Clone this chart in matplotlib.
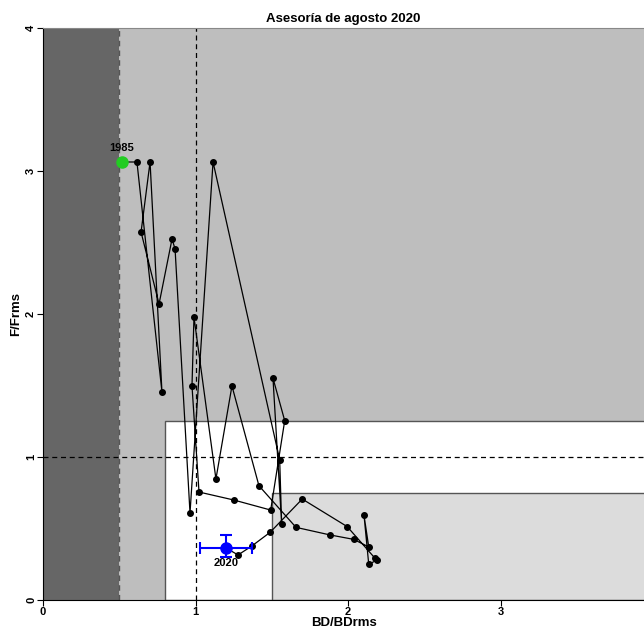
import matplotlib
matplotlib.use('Agg')
from matplotlib import pyplot as plt
from matplotlib.patches import Rectangle

# trajectory, 1985 -> 2020
years = list(range(1985, 2021))
bd = [0.518, 0.616, 0.780, 0.702, 0.643, 0.761, 0.846, 0.866, 0.964, 1.115,
      1.552, 1.565, 1.508, 1.585, 1.493, 1.252, 1.023, 0.977, 0.990, 1.134,
      1.239, 1.416, 1.659, 1.882, 2.037, 2.136, 2.105, 2.136, 2.192, 2.177,
      1.995, 1.700, 1.489, 1.370, 1.279, 1.200]
f = [3.063, 3.063, 1.455, 3.063, 2.573, 2.070, 2.524, 2.455, 0.608, 3.063,
     0.981, 0.529, 1.552, 1.254, 0.629, 0.699, 0.755, 1.497, 1.979, 0.846,
     1.497, 0.799, 0.508, 0.455, 0.424, 0.371, 0.592, 0.250, 0.280, 0.292,
     0.513, 0.706, 0.473, 0.378, 0.315, 0.364]

# last year uncertainty
bd_err = [0.17, 0.17]
f_err = [0.06, 0.09]

font_title = {'family': 'Liberation Sans', 'weight': 'bold', 'size': 9.5}
font1 = {'family': 'Liberation Sans', 'weight': 'bold', 'size': 9.5}
font_lab = {'family': 'Liberation Sans', 'weight': 'bold', 'size': 8}

fig = plt.figure(figsize=(6.44, 6.31), dpi=100)
ax = fig.add_axes([43/644, 31/631, 1 - 43/644, 572/631])
xmax = (644 - 43) / 152.5
ax.set_xlim(0, xmax)
ax.set_ylim(0, 4)

# background zones
ax.add_patch(Rectangle((0, 0), 0.5, 4, facecolor='#666666', edgecolor='none', zorder=0))
ax.add_patch(Rectangle((0.5, 0), xmax, 4, facecolor='#bebebe', edgecolor='none', zorder=0))
ax.add_patch(Rectangle((0.8, 0), xmax, 1.25, facecolor='white', edgecolor='#555555', lw=1, zorder=1))
ax.add_patch(Rectangle((1.5, 0), xmax, 0.75, facecolor='#dcdcdc', edgecolor='#555555', lw=1, zorder=1))
ax.axvline(0.5, color='#555555', ls=(0, (4, 3)), lw=1, zorder=2)
ax.axvline(1, color='black', ls=(0, (4, 3)), lw=0.9, zorder=2)
ax.axhline(1, color='black', ls=(0, (4, 3)), lw=0.9, zorder=2)

ax.plot(bd, f, color='black', lw=0.9, marker='o', markersize=4, zorder=3)
ax.plot(bd[0], f[0], 'o', color='#22cc22', markersize=8, zorder=4)
ax.errorbar(bd[-1], f[-1], xerr=[[bd_err[0]], [bd_err[1]]], yerr=[[f_err[0]], [f_err[1]]],
            fmt='o', color='blue', markersize=8, lw=1.5, capsize=4, capthick=1.5, zorder=5)
ax.text(bd[0], f[0] + 0.06, str(years[0]), ha='center', va='bottom', fontdict=font_lab)
ax.text(bd[-1], f[-1] - 0.07, str(years[-1]), ha='center', va='top', fontdict=font_lab)

ax.set_title('Asesoría de agosto 2020', fontdict=font_title, pad=4)
ax.set_xlabel('BD/BDrms', fontdict=font1, labelpad=0)
ax.set_ylabel('F/Frms', fontdict=font1, labelpad=3)
ax.set_xticks([0, 1, 2, 3])
ax.set_yticks([0, 1, 2, 3, 4])
ax.tick_params(direction='out', length=4, width=0.8, labelsize=8, pad=1)
for lab in ax.get_xticklabels() + ax.get_yticklabels():
    lab.set_fontweight('bold')
    lab.set_family('Liberation Sans')
for lab in ax.get_yticklabels():
    lab.set_rotation(90)
    lab.set_va('center')
ax.spines['right'].set_visible(False)
ax.spines['top'].set_color('#888888')

plt.savefig('out.png', dpi=100)
